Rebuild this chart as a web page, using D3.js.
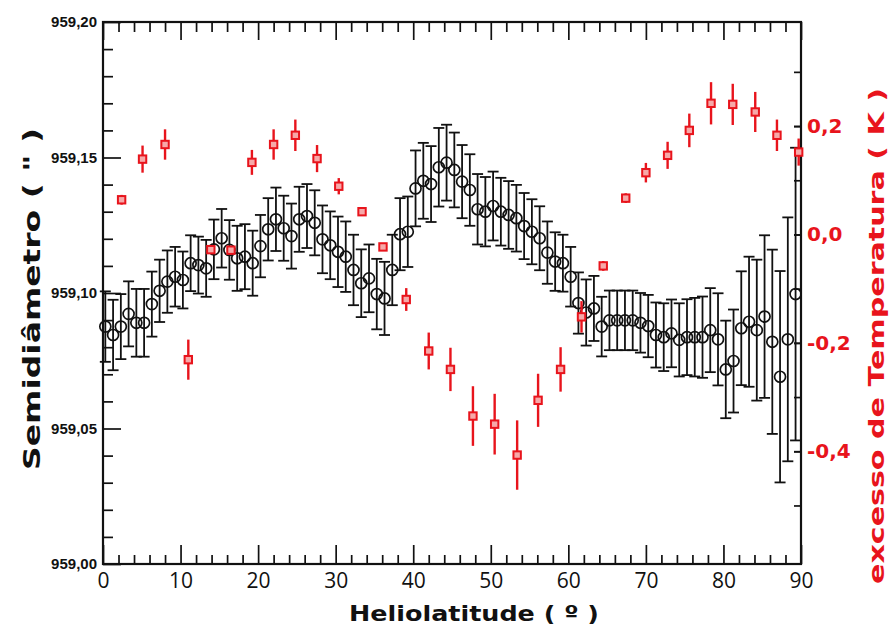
<!DOCTYPE html>
<html>
<head>
<meta charset="utf-8">
<script src="https://cdn.jsdelivr.net/npm/d3@7"></script>
<style>
  body { margin: 0; background: #fff; }
  svg { display: block; }
</style>
</head>
<body>
<svg id="chart"></svg>
<script>
// semidiameter (black circles), one point per degree
const semiLat = [0.3, 1.3, 2.3, 3.3, 4.3, 5.3, 6.3, 7.3, 8.3, 9.3,
  10.3, 11.3, 12.3, 13.3, 14.3, 15.3, 16.3, 17.3, 18.3, 19.3,
  20.3, 21.3, 22.3, 23.3, 24.3, 25.3, 26.3, 27.3, 28.3, 29.3,
  30.3, 31.3, 32.3, 33.3, 34.3, 35.3, 36.3, 37.3, 38.3, 39.3,
  40.3, 41.3, 42.3, 43.3, 44.3, 45.3, 46.3, 47.3, 48.3, 49.3,
  50.3, 51.3, 52.3, 53.3, 54.3, 55.3, 56.3, 57.3, 58.3, 59.3,
  60.3, 61.3, 62.3, 63.3, 64.3, 65.3, 66.3, 67.3, 68.3, 69.3,
  70.3, 71.3, 72.3, 73.3, 74.3, 75.3, 76.3, 77.3, 78.3, 79.3,
  80.3, 81.3, 82.3, 83.3, 84.3, 85.3, 86.3, 87.3, 88.3, 89.3];
const semiVal = [959.0876, 959.0845, 959.0876, 959.0923, 959.0890, 959.0890, 959.0959, 959.1008, 959.1042, 959.1060,
  959.1048, 959.1110, 959.1103, 959.1091, 959.1161, 959.1202, 959.1159, 959.1128, 959.1134, 959.1110,
  959.1173, 959.1235, 959.1272, 959.1239, 959.1210, 959.1272, 959.1284, 959.1259, 959.1198, 959.1176,
  959.1152, 959.1134, 959.1085, 959.1036, 959.1054, 959.0996, 959.0980, 959.1085, 959.1217, 959.1226,
  959.1386, 959.1414, 959.1402, 959.1464, 959.1481, 959.1454, 959.1411, 959.1380, 959.1309, 959.1300,
  959.1321, 959.1300, 959.1288, 959.1276, 959.1247, 959.1226, 959.1202, 959.1149, 959.1116, 959.1110,
  959.1060, 959.0963, 959.0928, 959.0943, 959.0876, 959.0899, 959.0899, 959.0899, 959.0899, 959.0890,
  959.0878, 959.0845, 959.0837, 959.0851, 959.0827, 959.0837, 959.0837, 959.0837, 959.0863, 959.0829,
  959.0718, 959.0749, 959.0870, 959.0894, 959.0863, 959.0913, 959.0820, 959.0691, 959.0829, 959.0996];
const semiErr = [0.013, 0.013, 0.012, 0.012, 0.0125, 0.0125, 0.012, 0.0115, 0.0115, 0.011,
  0.0105, 0.0103, 0.0105, 0.0105, 0.011, 0.0108, 0.011, 0.012, 0.012, 0.012,
  0.0115, 0.0115, 0.0117, 0.012, 0.012, 0.012, 0.0118, 0.012, 0.0125, 0.0125,
  0.013, 0.013, 0.013, 0.0125, 0.0125, 0.013, 0.0135, 0.013, 0.0133, 0.013,
  0.014, 0.014, 0.014, 0.0145, 0.014, 0.0138, 0.0135, 0.0132, 0.013, 0.0128,
  0.0127, 0.0125, 0.0125, 0.0123, 0.0122, 0.012, 0.0118, 0.0115, 0.0108, 0.0105,
  0.011, 0.0113, 0.0122, 0.012, 0.011, 0.011, 0.011, 0.011, 0.011, 0.011,
  0.0115, 0.012, 0.0125, 0.0125, 0.0135, 0.014, 0.0145, 0.015, 0.0155, 0.017,
  0.018, 0.019, 0.021, 0.024, 0.026, 0.030, 0.034, 0.039, 0.045, 0.054];

// temperature excess (red squares)
const tempLat = [2.4, 5.1, 8.0, 11.0, 13.9, 16.5, 19.2, 22.0, 24.8, 27.6,
  30.4, 33.4, 36.1, 39.1, 42.0, 44.8, 47.7, 50.5, 53.4, 56.1,
  59.0, 61.7, 64.5, 67.4, 70.0, 72.8, 75.6, 78.4, 81.2, 84.1, 86.9, 89.7];
const tempVal = [0.064, 0.139, 0.166, -0.231, -0.028, -0.029, 0.133, 0.166, 0.183, 0.140,
  0.089, 0.042, -0.023, -0.120, -0.215, -0.249, -0.335, -0.350, -0.407, -0.306,
  -0.249, -0.152, -0.058, 0.067, 0.114, 0.146, 0.192, 0.242, 0.240, 0.226, 0.183, 0.152];
const tempErr = [0.009, 0.025, 0.028, 0.037, 0.005, 0.005, 0.023, 0.028, 0.029, 0.025,
  0.015, 0.007, 0.007, 0.021, 0.034, 0.040, 0.055, 0.056, 0.064, 0.049,
  0.041, 0.029, 0.009, 0.009, 0.018, 0.025, 0.031, 0.039, 0.038, 0.037, 0.029, 0.025];

// axes
const xMajor = [0, 10, 20, 30, 40, 50, 60, 70, 80, 90];
const xMinor = [2, 4, 6, 8, 12, 14, 16, 18, 22, 24, 26, 28, 32, 34, 36, 38, 42, 44, 46, 48,
  52, 54, 56, 58, 62, 64, 66, 68, 72, 74, 76, 78, 82, 84, 86, 88];
const leftMajor = [959.00, 959.05, 959.10, 959.15, 959.20];
const leftLabels = ['959,00', '959,05', '959,10', '959,15', '959,20'];
const leftMinor = [959.01, 959.02, 959.03, 959.04, 959.06, 959.07, 959.08, 959.09,
  959.11, 959.12, 959.13, 959.14, 959.16, 959.17, 959.18, 959.19];
const rightTicks = [-0.5, -0.4, -0.3, -0.2, -0.1, 0.0, 0.1, 0.2, 0.3];
const rightLabelled = [-0.4, -0.2, 0.0, 0.2];
const rightLabels = ['-0,4', '-0,2', '0,0', '0,2'];

class HelioChart {
    constructor(_config, _data) {
        this.config = {
            parentElement: _config.parentElement,
            width: 890,
            height: 629,
            margin: { top: 22, right: 89, bottom: 65, left: 103 },
            red: '#e8141c'
        };
        this.data = _data;
        this.initVis();
    }

    initVis() {
        let vis = this;
        const m = vis.config.margin;
        vis.innerW = vis.config.width - m.left - m.right;
        vis.innerH = vis.config.height - m.top - m.bottom;

        vis.xScale = d3.scaleLinear().domain([0, 90]).range([0, vis.innerW]);
        vis.yLeft = d3.scaleLinear().domain([959.00, 959.20]).range([vis.innerH, 0]);
        vis.yRight = d3.scaleLinear().domain([-0.608, 0.392]).range([vis.innerH, 0]);

        vis.svg = d3.select(vis.config.parentElement)
            .attr('width', vis.config.width)
            .attr('height', vis.config.height);

        vis.chart = vis.svg.append('g')
            .attr('transform', `translate(${m.left},${m.top})`);
    }

    renderVis() {
        let vis = this;
        const red = vis.config.red;
        const H = vis.innerH, W = vis.innerW;

        // bottom axis
        vis.chart.append('g').attr('class', 'ax')
            .attr('transform', `translate(0,${H})`)
            .call(d3.axisBottom(vis.xScale).tickValues(xMinor).tickSize(-9).tickSizeOuter(0).tickFormat(''));
        vis.chart.append('g').attr('class', 'ax x-labels')
            .attr('transform', `translate(0,${H})`)
            .call(d3.axisBottom(vis.xScale).tickValues(xMajor).tickSize(-19).tickSizeOuter(0).tickPadding(9));

        // top axis (ticks only)
        vis.chart.append('g').attr('class', 'ax')
            .call(d3.axisTop(vis.xScale).tickValues(xMinor).tickSize(-10).tickSizeOuter(0).tickFormat(''));
        vis.chart.append('g').attr('class', 'ax')
            .call(d3.axisTop(vis.xScale).tickValues(xMajor).tickSize(-18).tickSizeOuter(0).tickFormat(''));

        // left axis
        vis.chart.append('g').attr('class', 'ax')
            .call(d3.axisLeft(vis.yLeft).tickValues(leftMinor).tickSize(-10).tickSizeOuter(0).tickFormat(''));
        vis.chart.append('g').attr('class', 'ax y-labels')
            .call(d3.axisLeft(vis.yLeft).tickValues(leftMajor).tickSize(-18).tickSizeOuter(0).tickPadding(6)
                .tickFormat((d, i) => leftLabels[i]));

        // right axis (temperature)
        vis.chart.append('g').attr('class', 'ax')
            .attr('transform', `translate(${W},0)`)
            .call(d3.axisRight(vis.yRight).tickValues(rightTicks).tickSize(-7).tickSizeOuter(0).tickFormat(''));
        vis.chart.append('g').attr('class', 'ax r-labels')
            .attr('transform', `translate(${W},0)`)
            .call(d3.axisRight(vis.yRight).tickValues(rightLabelled).tickSize(-7).tickSizeOuter(0).tickPadding(6)
                .tickFormat((d, i) => rightLabels[i]));

        vis.svg.selectAll('.ax path.domain').remove();
        vis.svg.selectAll('.ax line').attr('stroke', '#111').attr('stroke-width', 1.7);

        vis.svg.selectAll('.x-labels text')
            .attr('font-family', '"Open Sans", "Noto Sans", sans-serif')
            .attr('font-size', 21).attr('fill', '#111');
        vis.svg.selectAll('.y-labels text')
            .attr('font-family', '"Liberation Sans", Arial, sans-serif')
            .attr('font-weight', 'bold').attr('font-size', 15).attr('fill', '#111');
        vis.svg.selectAll('.r-labels text')
            .attr('font-family', '"DejaVu Sans", sans-serif')
            .attr('font-weight', 'bold').attr('font-size', 20).attr('fill', red);

        // frame
        vis.chart.append('rect')
            .attr('width', W).attr('height', H)
            .attr('fill', 'none').attr('stroke', '#111').attr('stroke-width', 2.2);

        // black error bars + circles
        const semi = vis.data.semi;
        const bars = vis.chart.append('g').attr('stroke', '#111').attr('stroke-width', 1.8);
        bars.selectAll('.sbar').data(semi).join('line')
            .attr('x1', d => vis.xScale(d.lat)).attr('x2', d => vis.xScale(d.lat))
            .attr('y1', d => vis.yLeft(d.v - d.e)).attr('y2', d => vis.yLeft(d.v + d.e));
        bars.selectAll('.capT').data(semi).join('line')
            .attr('x1', d => vis.xScale(d.lat) - 5.5).attr('x2', d => vis.xScale(d.lat) + 5.5)
            .attr('y1', d => vis.yLeft(d.v + d.e)).attr('y2', d => vis.yLeft(d.v + d.e));
        bars.selectAll('.capB').data(semi).join('line')
            .attr('x1', d => vis.xScale(d.lat) - 5.5).attr('x2', d => vis.xScale(d.lat) + 5.5)
            .attr('y1', d => vis.yLeft(d.v - d.e)).attr('y2', d => vis.yLeft(d.v - d.e));
        vis.chart.append('g').selectAll('circle').data(semi).join('circle')
            .attr('cx', d => vis.xScale(d.lat)).attr('cy', d => vis.yLeft(d.v))
            .attr('r', 5.5).attr('fill', 'none').attr('stroke', '#111').attr('stroke-width', 1.7);

        // red temperature points
        const temp = vis.data.temp;
        const tg = vis.chart.append('g');
        tg.selectAll('line').data(temp).join('line')
            .attr('x1', d => vis.xScale(d.lat)).attr('x2', d => vis.xScale(d.lat))
            .attr('y1', d => vis.yRight(d.v - d.e)).attr('y2', d => vis.yRight(d.v + d.e))
            .attr('stroke', red).attr('stroke-width', 2.4);
        tg.selectAll('rect').data(temp).join('rect')
            .attr('x', d => vis.xScale(d.lat) - 3.7).attr('y', d => vis.yRight(d.v) - 3.7)
            .attr('width', 7.4).attr('height', 7.4)
            .attr('fill', '#f6a9a9').attr('stroke', red).attr('stroke-width', 2);

        // axis titles
        const titleFont = '"DejaVu Sans", Verdana, sans-serif';
        vis.svg.append('text')
            .attr('transform', 'translate(40,299) rotate(-90)')
            .attr('text-anchor', 'middle')
            .attr('font-family', titleFont).attr('font-weight', 'bold').attr('font-size', 23)
            .attr('textLength', 342).attr('lengthAdjust', 'spacingAndGlyphs')
            .attr('fill', '#111')
            .text('Semidiâmetro ( " )');
        vis.svg.append('text')
            .attr('x', 474).attr('y', 621)
            .attr('text-anchor', 'middle')
            .attr('font-family', titleFont).attr('font-weight', 'bold').attr('font-size', 22)
            .attr('textLength', 250).attr('lengthAdjust', 'spacingAndGlyphs')
            .attr('fill', '#111')
            .text('Heliolatitude ( º )');
        vis.svg.append('text')
            .attr('transform', 'translate(884,336) rotate(-90)')
            .attr('text-anchor', 'middle')
            .attr('font-family', titleFont).attr('font-weight', 'bold').attr('font-size', 22)
            .attr('textLength', 496).attr('lengthAdjust', 'spacingAndGlyphs')
            .attr('fill', red)
            .text('excesso de Temperatura ( K )');
    }
}

const semiData = semiLat.map((lat, i) => ({ lat: lat, v: semiVal[i], e: semiErr[i] }));
const tempData = tempLat.map((lat, i) => ({ lat: lat, v: tempVal[i], e: tempErr[i] }));

const chart = new HelioChart({ parentElement: '#chart' }, { semi: semiData, temp: tempData });
chart.renderVis();
</script>
</body>
</html>
